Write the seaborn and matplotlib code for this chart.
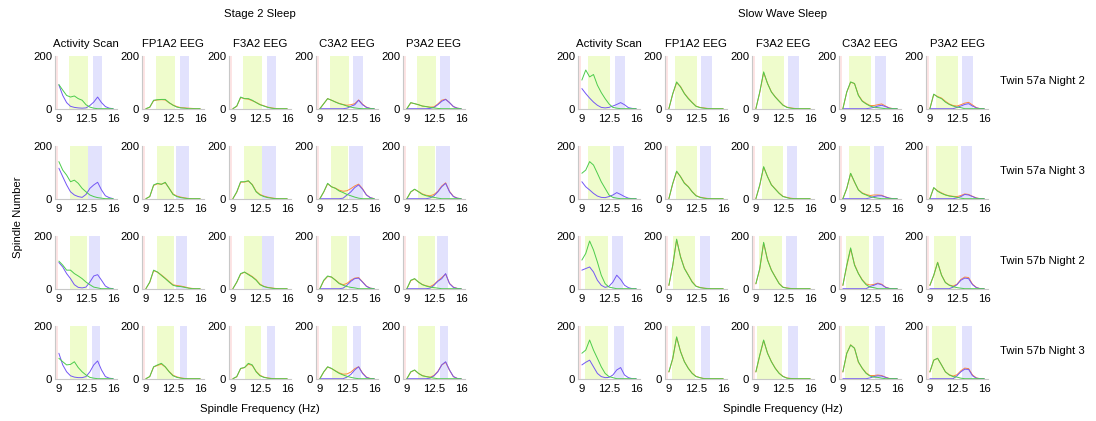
import numpy as np
import matplotlib
matplotlib.use("Agg")
import matplotlib.pyplot as plt
import seaborn as sns

sns.set_style("white")
plt.rcParams['font.family'] = ['Liberation Sans', 'DejaVu Sans']
plt.rcParams['text.color'] = 'black'
plt.rcParams['axes.labelcolor'] = 'black'
plt.rcParams['xtick.color'] = 'black'
plt.rcParams['ytick.color'] = 'black'

# frequency grid (Hz) the histograms were read at
freqs = [9, 9.5, 10, 10.5, 11, 11.5, 12, 12.5, 13, 13.5, 14, 14.5, 15, 15.5, 16]

conditions = ["Stage 2 Sleep", "Slow Wave Sleep"]
channels = ["Activity Scan", "FP1A2 EEG", "F3A2 EEG", "C3A2 EEG", "P3A2 EEG"]
recordings = ["Twin 57a Night 2", "Twin 57a Night 3", "Twin 57b Night 2", "Twin 57b Night 3"]
zero = [0] * 15

# ---------------- Stage 2 sleep ----------------
s2_act_green = [[91, 70, 50, 44, 48, 38, 32, 15, 6, 2, 0, 0, 0, 0, 0],
                [140, 108, 89, 64, 70, 58, 39, 26, 14, 8, 4, 2, 0, 0, 0],
                [104, 89, 70, 70, 57, 48, 38, 25, 15, 6, 3, 0, 0, 0, 0],
                [77, 64, 52, 54, 64, 42, 26, 14, 5, 2, 0, 0, 0, 0, 0]]
s2_act_blue = [[90, 50, 23, 9, 5, 3, 2, 3, 12, 25, 44, 23, 8, 2, 0],
               [115, 83, 52, 26, 14, 8, 5, 16, 39, 52, 62, 33, 11, 4, 0],
               [99, 82, 57, 38, 15, 5, 3, 6, 25, 48, 53, 32, 10, 2, 0],
               [96, 52, 26, 11, 6, 4, 4, 8, 26, 52, 67, 33, 8, 2, 0]]

s2_fp1_green = [[0, 6, 32, 34, 35, 35, 23, 13, 6, 3, 2, 0, 0, 0, 0],
                [0, 8, 52, 58, 54, 62, 39, 16, 8, 4, 2, 0, 0, 0, 0],
                [0, 25, 70, 63, 50, 38, 25, 13, 9, 8, 5, 2, 0, 0, 0],
                [0, 8, 45, 52, 58, 45, 26, 11, 5, 2, 0, 0, 0, 0, 0]]
s2_fp1_orange = [[0, 5, 30, 33, 34, 33, 22, 14, 8, 4, 3, 2, 1, 0, 0],
                 [0, 8, 50, 56, 55, 60, 40, 18, 10, 6, 3, 1, 0, 0, 0],
                 [0, 24, 68, 62, 52, 40, 27, 15, 12, 10, 7, 3, 1, 0, 0],
                 [0, 8, 44, 50, 55, 44, 27, 13, 7, 3, 1, 0, 0, 0, 0]]

s2_f3_green = [[0, 10, 44, 38, 38, 32, 23, 15, 10, 5, 2, 0, 0, 0, 0],
               [0, 26, 64, 64, 68, 52, 26, 14, 8, 4, 2, 0, 0, 0, 0],
               [0, 25, 57, 63, 53, 44, 32, 15, 8, 4, 2, 0, 0, 0, 0],
               [0, 8, 39, 42, 58, 52, 26, 11, 5, 2, 0, 0, 0, 0, 0]]
s2_f3_orange = [[0, 9, 42, 38, 36, 30, 24, 16, 11, 6, 3, 1, 0, 0, 0],
                [0, 24, 62, 63, 66, 54, 28, 16, 10, 6, 3, 1, 0, 0, 0],
                [0, 24, 55, 62, 55, 46, 34, 17, 9, 5, 3, 1, 0, 0, 0],
                [0, 7, 38, 42, 55, 50, 28, 13, 6, 3, 1, 0, 0, 0, 0]]

s2_c3_green = [[0, 19, 38, 32, 25, 19, 15, 10, 6, 3, 1, 0, 0, 0, 0],
               [0, 26, 58, 45, 39, 29, 23, 16, 11, 6, 2, 0, 0, 0, 0],
               [0, 32, 48, 44, 32, 19, 13, 8, 5, 3, 0, 0, 0, 0, 0],
               [0, 26, 45, 39, 29, 20, 14, 9, 5, 2, 0, 0, 0, 0, 0]]
s2_c3_blue = [[0, 0, 0, 0, 0, 0, 0, 2, 9, 15, 32, 15, 5, 1, 0],
              [0, 0, 0, 0, 0, 0, 2, 14, 26, 42, 52, 36, 14, 4, 0],
              [0, 0, 0, 0, 0, 0, 2, 13, 28, 38, 40, 25, 9, 2, 0],
              [0, 0, 0, 0, 0, 0, 0, 6, 16, 33, 45, 20, 5, 0, 0]]
s2_c3_orange = [[0, 19, 38, 32, 26, 20, 16, 13, 15, 19, 33, 17, 6, 1, 0],
                [0, 25, 56, 45, 40, 32, 28, 30, 38, 48, 55, 38, 15, 4, 0],
                [0, 30, 46, 44, 33, 21, 15, 20, 32, 40, 42, 26, 10, 2, 0],
                [0, 25, 44, 38, 30, 22, 17, 18, 25, 38, 45, 22, 6, 1, 0]]

s2_p3_green = [[0, 23, 19, 15, 10, 8, 5, 3, 1, 0, 0, 0, 0, 0, 0],
               [0, 26, 36, 26, 16, 11, 8, 5, 2, 0, 0, 0, 0, 0, 0],
               [0, 32, 38, 25, 15, 10, 6, 4, 2, 0, 0, 0, 0, 0, 0],
               [0, 26, 33, 20, 11, 8, 5, 2, 0, 0, 0, 0, 0, 0, 0]]
s2_p3_blue = [[0, 0, 0, 0, 0, 0, 1, 5, 15, 28, 35, 23, 8, 2, 0],
              [0, 0, 0, 0, 0, 0, 3, 11, 26, 45, 58, 26, 8, 2, 0],
              [0, 0, 0, 0, 0, 0, 2, 13, 28, 38, 57, 19, 5, 1, 0],
              [0, 0, 0, 0, 0, 0, 2, 11, 26, 52, 64, 33, 8, 1, 0]]
s2_p3_orange = [[0, 22, 19, 15, 10, 8, 6, 7, 18, 32, 36, 23, 8, 2, 0],
                [0, 25, 35, 27, 18, 13, 11, 16, 28, 48, 60, 28, 9, 2, 0],
                [0, 30, 37, 25, 16, 11, 8, 16, 30, 42, 55, 20, 6, 1, 0],
                [0, 25, 32, 20, 12, 8, 6, 12, 28, 52, 62, 32, 8, 1, 0]]

# ---------------- Slow wave sleep ----------------
sws_act_green = [[108, 146, 120, 129, 89, 61, 38, 18, 5, 2, 0, 0, 0, 0, 0],
                 [96, 108, 140, 127, 96, 64, 39, 14, 5, 2, 0, 0, 0, 0, 0],
                 [108, 133, 180, 146, 101, 51, 19, 6, 3, 0, 0, 0, 0, 0, 0],
                 [96, 108, 146, 108, 77, 45, 20, 8, 4, 0, 0, 0, 0, 0, 0]]
sws_act_blue = [[76, 57, 40, 25, 13, 5, 3, 5, 10, 16, 23, 15, 4, 1, 0],
                [64, 45, 33, 20, 10, 5, 4, 8, 14, 23, 16, 8, 2, 0, 0],
                [70, 76, 82, 63, 32, 13, 5, 9, 25, 51, 35, 13, 4, 0, 0],
                [52, 62, 70, 45, 20, 8, 4, 5, 14, 33, 42, 14, 4, 0, 0]]

sws_fp1_green = [[0, 57, 101, 82, 57, 38, 23, 9, 4, 2, 0, 0, 0, 0, 0],
                 [0, 58, 104, 83, 58, 45, 26, 11, 5, 2, 0, 0, 0, 0, 0],
                 [13, 89, 187, 120, 76, 51, 25, 9, 4, 2, 0, 0, 0, 0, 0],
                 [26, 77, 158, 102, 64, 39, 20, 8, 4, 0, 0, 0, 0, 0, 0]]
sws_fp1_orange = [[0, 55, 98, 84, 58, 40, 24, 10, 5, 3, 1, 0, 0, 0, 0],
                  [0, 56, 102, 84, 60, 46, 27, 12, 6, 3, 1, 0, 0, 0, 0],
                  [12, 87, 184, 122, 78, 52, 27, 10, 5, 2, 1, 0, 0, 0, 0],
                  [25, 75, 156, 104, 65, 40, 21, 9, 4, 1, 0, 0, 0, 0, 0]]

sws_f3_green = [[0, 63, 139, 95, 63, 44, 28, 13, 5, 2, 0, 0, 0, 0, 0],
                [0, 52, 121, 83, 52, 36, 20, 8, 4, 0, 0, 0, 0, 0, 0],
                [19, 76, 175, 108, 70, 44, 19, 5, 2, 0, 0, 0, 0, 0, 0],
                [26, 89, 146, 96, 64, 39, 20, 8, 2, 0, 0, 0, 0, 0, 0]]
sws_f3_orange = [[0, 61, 136, 96, 64, 45, 29, 14, 6, 3, 1, 0, 0, 0, 0],
                 [0, 50, 119, 84, 53, 37, 21, 9, 5, 2, 0, 0, 0, 0, 0],
                 [18, 74, 172, 110, 71, 45, 20, 6, 3, 1, 0, 0, 0, 0, 0],
                 [25, 87, 144, 97, 65, 40, 21, 9, 3, 1, 0, 0, 0, 0, 0]]

sws_c3_green = [[0, 63, 101, 95, 50, 28, 18, 10, 6, 4, 2, 0, 0, 0, 0],
                [0, 39, 96, 64, 33, 20, 14, 8, 5, 2, 0, 0, 0, 0, 0],
                [13, 89, 154, 89, 57, 32, 15, 6, 4, 0, 0, 0, 0, 0, 0],
                [26, 96, 127, 115, 64, 39, 20, 10, 6, 5, 2, 0, 0, 0, 0]]
sws_c3_blue = [[0, 0, 0, 0, 0, 0, 0, 2, 5, 10, 13, 8, 2, 0, 0],
               [0, 0, 0, 0, 0, 0, 0, 3, 8, 11, 11, 6, 2, 0, 0],
               [0, 0, 0, 0, 0, 0, 0, 8, 13, 19, 15, 5, 1, 0, 0],
               [0, 0, 0, 0, 0, 0, 0, 3, 8, 11, 10, 5, 0, 0, 0]]
sws_c3_orange = [[0, 62, 100, 95, 52, 30, 20, 12, 12, 15, 18, 10, 3, 0, 0],
                 [0, 38, 95, 62, 34, 22, 16, 12, 14, 14, 13, 7, 2, 0, 0],
                 [12, 85, 150, 92, 58, 34, 18, 14, 16, 21, 17, 6, 1, 0, 0],
                 [25, 95, 128, 115, 62, 40, 22, 12, 12, 14, 12, 6, 1, 0, 0]]

sws_p3_green = [[0, 55, 44, 38, 25, 16, 10, 6, 4, 0, 0, 0, 0, 0, 0],
                [0, 42, 28, 20, 14, 10, 8, 5, 2, 0, 0, 0, 0, 0, 0],
                [13, 51, 99, 51, 23, 13, 8, 4, 2, 0, 0, 0, 0, 0, 0],
                [26, 70, 77, 52, 26, 14, 8, 6, 2, 0, 0, 0, 0, 0, 0]]
sws_p3_blue = [[0, 0, 0, 0, 0, 0, 0, 5, 10, 16, 19, 10, 3, 0, 0],
               [0, 0, 0, 0, 0, 0, 0, 3, 8, 16, 14, 8, 2, 0, 0],
               [0, 0, 0, 0, 0, 0, 6, 15, 32, 40, 38, 15, 4, 0, 0],
               [0, 0, 0, 0, 0, 0, 0, 11, 26, 36, 35, 11, 2, 0, 0]]
sws_p3_orange = [[0, 54, 46, 40, 28, 18, 12, 10, 15, 21, 24, 14, 4, 0, 0],
                 [0, 41, 30, 22, 15, 11, 9, 8, 12, 18, 16, 9, 3, 0, 0],
                 [12, 50, 100, 52, 24, 14, 10, 17, 35, 44, 42, 17, 5, 0, 0],
                 [25, 70, 77, 52, 26, 15, 10, 15, 30, 40, 38, 14, 3, 0, 0]]

# shaded frequency bands per panel: (low, high) in Hz, [row][channel]
pink_band = (8.5, 8.92)
s2_slow_band = [[(10.3, 12.7), (10.34, 12.8), (10.3, 12.8), (10.3, 12.77), (10.3, 12.77)],
                [(10.4, 12.7), (10.4, 12.66), (10.4, 12.7), (10.43, 12.6), (10.4, 12.6)],
                [(10.4, 12.57), (10.4, 12.6), (10.4, 12.7), (10.43, 12.5), (10.4, 12.6)],
                [(10.47, 12.57), (10.45, 12.6), (10.5, 12.6), (10.5, 12.5), (10.47, 12.6)]]
s2_fast_band = [[(13.4, 14.55), (13.4, 14.5), (13.4, 14.5), (13.33, 14.54), (13.33, 14.5)],
                [(12.77, 14.5), (12.9, 14.5), (12.77, 14.5), (12.8, 14.5), (12.77, 14.5)],
                [(12.85, 14.28), (12.9, 14.3), (12.8, 14.3), (12.8, 14.24), (12.85, 14.3)],
                [(13.33, 14.37), (13.4, 14.3), (13.4, 14.4), (13.33, 14.3), (13.33, 14.3)]]
sws_slow_band = [[(9.74, 12.6), (9.82, 12.64), (9.74, 12.6), (9.74, 12.6), (9.74, 12.64)],
                 [(9.78, 12.6), (9.87, 12.64), (9.8, 12.55), (9.78, 12.55), (9.82, 12.64)],
                 [(9.43, 12.33), (9.48, 12.33), (9.43, 12.33), (9.43, 12.33), (9.48, 12.33)],
                 [(9.43, 12.33), (9.4, 12.33), (9.2, 12.33), (9.26, 12.33), (9.3, 12.33)]]
sws_fast_band = [[(13.24, 14.5), (13.2, 14.6), (13.2, 14.54), (13.2, 14.5), (13.2, 14.5)],
                 [(13.0, 14.4), (13.07, 14.4), (13.0, 14.3), (13.0, 14.3), (13.07, 14.4)],
                 [(12.9, 14.3), (13.0, 14.37), (12.9, 14.3), (12.9, 14.3), (12.94, 14.28)],
                 [(13.2, 14.4), (13.2, 14.37), (13.2, 14.4), (13.2, 14.4), (13.2, 14.4)]]

# series per channel: (orange, blue, green); None means not drawn
s2_series = [(None, s2_act_blue, s2_act_green),
             (s2_fp1_orange, None, s2_fp1_green),
             (s2_f3_orange, None, s2_f3_green),
             (s2_c3_orange, s2_c3_blue, s2_c3_green),
             (s2_p3_orange, s2_p3_blue, s2_p3_green)]
sws_series = [(None, sws_act_blue, sws_act_green),
              (sws_fp1_orange, None, sws_fp1_green),
              (sws_f3_orange, None, sws_f3_green),
              (sws_c3_orange, sws_c3_blue, sws_c3_green),
              (sws_p3_orange, sws_p3_blue, sws_p3_green)]
all_series = [s2_series, sws_series]
all_slow = [s2_slow_band, sws_slow_band]
all_fast = [s2_fast_band, sws_fast_band]

c_orange = "#ff8a3d"
c_blue = "#7357f5"
c_green = "#4ccc4c"
c_pink_band = "#fde4e4"
c_green_band = "#effccc"
c_blue_band = "#e2e2fd"

W, H = 1096, 421
fig = plt.figure(figsize=(W / 100, H / 100), dpi=100)

group_left = [55, 578]
col_step = 87
row_tops = [55.7, 145.7, 235.7, 325.7]
aw, ah = 62, 53
fs = 8.2

for g in range(2):
    for r in range(4):
        for c in range(5):
            x0 = group_left[g] + c * col_step
            y0 = row_tops[r]
            ax = fig.add_axes([x0 / W, 1 - (y0 + ah) / H, aw / W, ah / H])
            ax.axvspan(*pink_band, color=c_pink_band, lw=0)
            ax.axvspan(*all_slow[g][r][c], color=c_green_band, lw=0)
            ax.axvspan(*all_fast[g][r][c], color=c_blue_band, lw=0)
            orange, blue, green = all_series[g][c]
            blue_vals = blue[r] if blue is not None else zero
            if orange is not None:
                sns.lineplot(x=freqs, y=orange[r], color=c_orange, lw=0.7, ax=ax)
            sns.lineplot(x=freqs, y=blue_vals, color=c_blue, lw=0.7, ax=ax)
            sns.lineplot(x=freqs, y=green[r], color=c_green, lw=0.7, ax=ax)
            ax.set_xlim(8.5, 16.5)
            ax.set_ylim(0, 200)
            ax.set_xticks([9, 12.5, 16])
            ax.set_xticklabels(["9", "12.5", "16"])
            ax.set_yticks([0, 200])
            ax.set_yticklabels(["0", "200"])
            ax.tick_params(axis="x", length=0, labelsize=fs, pad=4)
            ax.tick_params(axis="y", length=0, labelsize=fs, pad=2)
            sns.despine(ax=ax)
            for s in ["left", "bottom"]:
                ax.spines[s].set_color("#c8c8c8")
                ax.spines[s].set_linewidth(0.8)
            ax.set_xlabel("")
            ax.set_ylabel("")
            if r == 0:
                ax.set_title(channels[c], fontsize=fs, pad=6)

    gx = (group_left[g] + group_left[g] + 4 * col_step + aw) / 2
    fig.text(gx / W, 1 - 14 / H, conditions[g], ha="center", va="center", fontsize=fs)
    fig.text(gx / W, 1 - 409 / H, "Spindle Frequency (Hz)", ha="center", va="center", fontsize=fs)

for r in range(4):
    fig.text(1000 / W, 1 - (row_tops[r] + 25) / H, recordings[r], ha="left", va="center", fontsize=fs)

fig.text(18 / W, 1 - 217 / H, "Spindle Number", rotation=90, ha="center", va="center", fontsize=fs)

fig.savefig("out.png", dpi=100)
